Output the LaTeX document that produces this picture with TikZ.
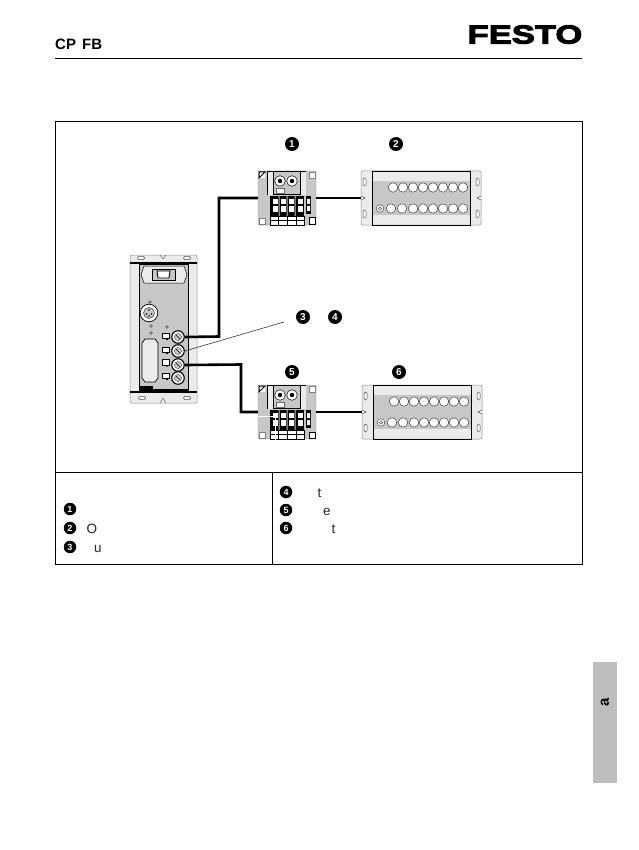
\documentclass[tikz,border=0pt]{standalone}
\usepackage{fontspec}
\setmainfont{Liberation Sans}
\newfontfamily\logofont[FakeBold=4,FakeStretch=1.33]{Liberation Sans Bold}
\usetikzlibrary{calc}
\definecolor{bodygray}{gray}{0.78}
\definecolor{panelpale}{gray}{0.92}
\definecolor{tabgray}{gray}{0.74}
\tikzset{
 frameline/.style={draw=black,line width=1pt},
 cable/.style={draw=black,line width=2.6pt},
 bul/.style={circle,fill=black,text=white,inner sep=0pt,minimum size=14pt,font=\fontsize{10}{10}\selectfont\bfseries},
 bulsmall/.style={bul,minimum size=12.5pt,font=\fontsize{9}{9}\selectfont\bfseries},
 legend/.style={anchor=base west,inner sep=0pt,font=\fontsize{13.5}{13.5}\selectfont,text=black!85},
 hole/.style={draw=black!75,fill=white,line width=.5pt},
 port/.style={circle,draw=black,fill=white,line width=1.1pt,minimum size=12.5pt,inner sep=0pt},
 thinblk/.style={draw=black,line width=.6pt},
}
% valve terminal: #1 node name, #2 origin
\newcommand{\valveterminal}[2]{%
\begin{scope}[shift={#2}]
 \node[fill=bodygray,draw=black!40,line width=.4pt,rounded corners=1pt,minimum width=58pt,minimum height=54pt,inner sep=0pt] (#1) at (29,27) {};
 \fill[white] (1,1) rectangle (7,7);
 \draw[black,line width=1pt] (1,7) -- (7,1) -- (1,1) -- cycle;
 \fill[white] (51,1) rectangle (57,7); \draw[black!50,line width=.5pt] (51,1) rectangle (57,7);
 \fill[white] (1,47) rectangle (7,53); \draw[black!50,line width=.5pt] (1,47) rectangle (7,53);
 \fill[white] (51,47) rectangle (57,53);
 \draw[black,line width=1pt] (51,53) -- (51,47) -- (57,47) -- (57,53) -- cycle;
 \fill[panelpale] (9,0) rectangle (48,24);
 \fill[bodygray] (15,0) rectangle (42,23);
 \draw[thinblk] (9,0) -- (48,0) (15,0) rectangle (42,23) (9,0) -- (9,24);
 \foreach \kx in {22,34}{
  \draw[black,fill=white,line width=.5pt] (\kx,10) circle (5.3pt);
  \fill[black] (\kx,10) circle (2.2pt);
 }
 \draw[black!60,fill=white,line width=.4pt] (18,17.5) rectangle (26,22);
 \fill[black] (12,25) rectangle (46,45);
 \fill[bodygray] (20.5,25) rectangle (21.5,45) (28.5,25) rectangle (29.5,45) (36.5,25) rectangle (37.5,45);
 \foreach \cx in {14.5,23,31,39.5}{
  \fill[white] (\cx,28) rectangle +(5,5);
  \fill[white] (\cx,35) rectangle +(5,6);
 }
 \draw[black,fill=white,line width=.8pt] (12,45) rectangle (46,54);
 \draw[black,line width=.8pt] (12,49.5) -- (46,49.5) (20,45) -- (20,54) (29,45) -- (29,54) (38,45) -- (38,54);
 \fill[black] (48,25) rectangle (53,43);
 \fill[white] (49,28) rectangle (52,33) (49,35) rectangle (52,40);
\end{scope}}
% I/O module: #1 node name, #2 origin
\newcommand{\iomodule}[2]{%
\begin{scope}[shift={#2}]
 \node[fill=panelpale,draw=black!45,line width=.5pt,rounded corners=2pt,minimum width=120pt,minimum height=54pt,inner sep=0pt] (#1) at (60,27) {};
 \fill[panelpale] (11,1) rectangle (109,53);
 \fill[bodygray] (11,10) rectangle (109,44);
 \draw[black,line width=.9pt] (11,0) rectangle (109,54);
 \foreach \sx in {3.5,116.5}{
  \draw[black!70,fill=white,line width=.5pt,rounded corners=1.4pt] (\sx-1.5,7) rectangle (\sx+1.5,15);
  \draw[black!70,fill=white,line width=.5pt,rounded corners=1.4pt] (\sx-1.5,39) rectangle (\sx+1.5,47);
 }
 \draw[black!70,fill=white,line width=.5pt] (0,25) -- (4,27) -- (0,29);
 \draw[black!70,fill=white,line width=.5pt] (120,25) -- (116,27) -- (120,29);
 \foreach \cx in {32,42,52,62,72,82,92,102}{
  \draw[hole] (\cx,16.5) circle (4.7pt);
 }
 \foreach \cx in {30,41,52,62,72,82,92,102}{
  \draw[hole] (\cx,37.5) circle (4.7pt);
 }
 \draw[black!70,fill=white,line width=.5pt] (19,37.5) circle (3.8pt);
 \draw[black!70,line width=.5pt] (19,37.5) circle (1.8pt);
\end{scope}}
\begin{document}
\begin{tikzpicture}[x=1pt,y=-1pt,line cap=butt]
\useasboundingbox (0,0) rectangle (638,850);
\fill[white] (0,0) rectangle (638,850);
% header
\node[anchor=base west,inner sep=0pt,font=\fontsize{15}{15}\selectfont\bfseries] (title) at (55,49.5) {CP\hspace{2pt} FB};
\node[anchor=base east,inner sep=0pt,font=\fontsize{26}{26}\logofont] (logo) at (582.5,43.5) {FESTO};
\draw[black,line width=.9pt] (55,58) -- (582,58);
% frames
\draw[frameline] (55,122) rectangle (582,564);
\draw[frameline] (55,472) -- (582,472);
\draw[frameline] (272,472) -- (272,564);
% devices
\valveterminal{vone}{(258,171)}
\iomodule{oone}{(361,171)}
\valveterminal{vtwo}{(258,385)}
\draw[white,line width=.7pt] (258,416) -- (275,416) -- (275,440);
\iomodule{otwo}{(362,385)}
% main module
\node[fill=panelpale,draw=black!45,line width=.5pt,rounded corners=2pt,minimum width=67pt,minimum height=148pt,inner sep=0pt] (mainbody) at (163.5,329) {};
\fill[bodygray] (139,264) rectangle (188,392);
\draw[black,line width=1pt] (139,264) rectangle (188,392);
\draw[black,line width=1.5pt] (130,263) -- (197,263) (130,392) -- (197,392);
\foreach \sx/\sy in {141/258,187/258,142/398,187/398}{
 \draw[black!70,fill=white,line width=.5pt,rounded corners=1.4pt] (\sx-3.5,\sy-1.6) rectangle (\sx+3.5,\sy+1.6);
}
\draw[black!60,line width=.5pt] (160,255) -- (163,259) -- (166,255);
\draw[black!60,line width=.5pt] (160,403) -- (163,398) -- (166,403);
\draw[black,fill=panelpale,line width=.5pt] (144,266) -- (184,266) -- (187,274.5) -- (184,283) -- (144,283) -- (141,274.5) -- cycle;
\draw[black,fill=bodygray,line width=.6pt] (152,269) rectangle (175,280);
\draw[black,fill=white,line width=.9pt] (157,271) -- (170,271) -- (169,278) -- (158,278) -- cycle;
\draw[black,fill=white,line width=.7pt] (149,313) circle (8.8pt);
\draw[black!70,fill=bodygray,line width=.6pt] (149,313) circle (5.5pt);
\foreach \dx/\dy in {149/310,146.5/314,151.5/314,149/316}{\fill[black] (\dx,\dy) circle (.9pt);}
\foreach \dx/\dy in {150/302,151/326,151/333,167/327}{\draw[black,fill=white,line width=.4pt] (\dx,\dy) circle (1.3pt);}
\draw[black,fill=panelpale,line width=.7pt] (145,339) -- (155,339) -- (158,343) -- (158,378) -- (155,382) -- (145,382) -- (142,378) -- (142,343) -- cycle;
\foreach \ly in {333,347,359.5,373}{
 \draw[black,fill=white,line width=.6pt] (162,\ly) rectangle (169,\ly+5.5);
 \fill[black] (167,\ly+6.3) circle (1pt);
}
\node[port] (pone) at (178,337) {};
\node[port] (ptwo) at (178,351) {};
\node[port] (pthree) at (178,365) {};
\node[port] (pfour) at (178,378) {};
\foreach \pn in {pone,ptwo,pthree,pfour}{
 \draw[black!60,fill=bodygray,line width=.5pt] (\pn) circle (3.6pt);
 \draw[black,line width=.6pt] ($(\pn)+(-2,-2)$) -- ($(\pn)+(2,2)$);
}
\fill[black] (140,386) rectangle (153,392);
\fill[black] (153,389) rectangle (188,392);
% connectors
\coordinate (bendone) at (219,336.5);
\coordinate (bendtwo) at (241,364.5);
\coordinate (leaderend) at (284,322);
\draw[cable] (pone.east) -- (bendone) |- (vone.west);
\draw[cable] (vone.east) -- (oone.west);
\draw[cable] (pthree.east) -- (bendtwo) |- (vtwo.west);
\draw[cable] (vtwo.east) -- (otwo.west);
\draw[black!80,line width=.6pt] (ptwo.east) -- (leaderend);
% numbered markers
\node[bul] (nbone) at (292,144) {1};
\node[bul] (nbtwo) at (396,144) {2};
\node[bul] (nbthree) at (303,317) {3};
\node[bul] (nbfour) at (335,317) {4};
\node[bul] (nbfive) at (292,372) {5};
\node[bul] (nbsix) at (399,372) {6};
% legend
\node[bulsmall] (lgone) at (70,509) {1};
\node[bulsmall] (lgtwo) at (70,528) {2};
\node[bulsmall] (lgthree) at (70,547) {3};
\node[bulsmall] (lgfour) at (286,492) {4};
\node[bulsmall] (lgfive) at (286,510) {5};
\node[bulsmall] (lgsix) at (286,528) {6};
\node[legend] (tO) at (86.5,533) {O};
\node[legend] (tu) at (94,552) {u};
\node[legend] (ta) at (317.5,497) {t};
\node[legend] (te) at (323,515) {e};
\node[legend] (tb) at (331.5,533) {t};
% side tab
\fill[tabgray] (593,662) rectangle (617,783);
\node[rotate=90,inner sep=0pt,font=\fontsize{15}{15}\selectfont\bfseries] (tabtext) at (605,702) {a};
\end{tikzpicture}
\end{document}
